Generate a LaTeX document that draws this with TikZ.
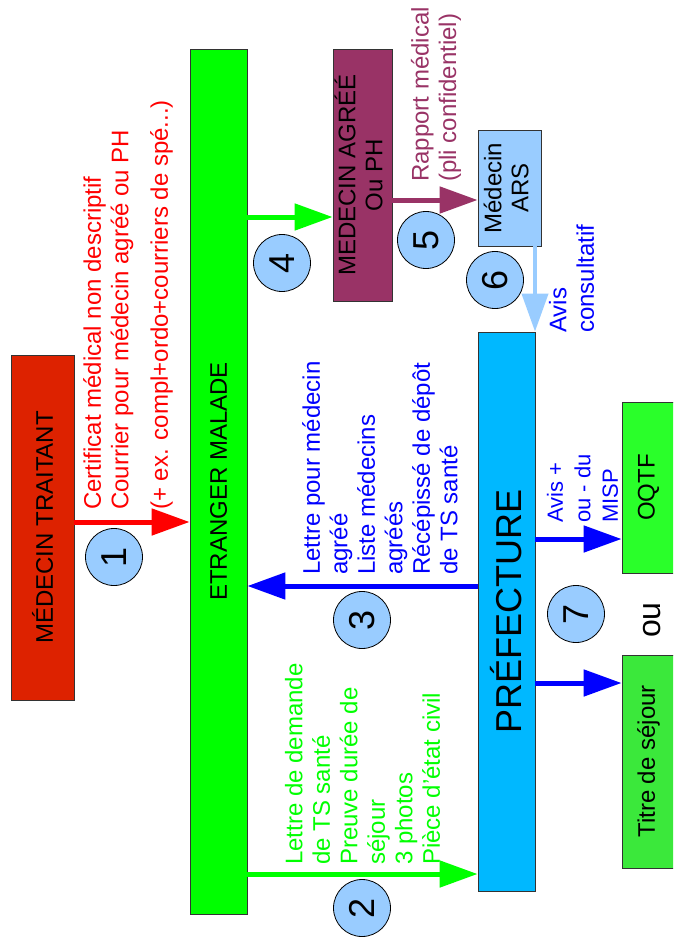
\documentclass[tikz,border=0pt]{standalone}
\usepackage{fontspec}
\setmainfont{Liberation Sans}
\usetikzlibrary{arrows.meta}
\definecolor{traitantred}{HTML}{DD2200}
\definecolor{malgreen}{HTML}{00FF00}
\definecolor{agreepurple}{HTML}{993366}
\definecolor{arsblue}{HTML}{99CCFF}
\definecolor{prefblue}{HTML}{00B8FF}
\definecolor{oqtfgreen}{HTML}{2AFF2A}
\definecolor{titregreen}{HTML}{3BE83B}
\definecolor{docblue}{HTML}{0000FF}

\begin{document}
\begin{tikzpicture}[x=1pt,y=-1pt,
    box/.style={draw=black!80, line width=0.8pt, inner sep=0pt,
      font=\fontsize{24}{27}\selectfont},
    num/.style={circle, draw=black, line width=0.8pt, fill=arsblue,
      minimum size=57pt, inner sep=0pt, font=\fontsize{36}{36}\selectfont},
    lbl/.style={rotate=90, anchor=west, align=left, inner sep=0pt,
      font=\fontsize{24}{27.5}\selectfont},
    arr/.style={line width=5pt, -{Triangle[length=38pt,width=26pt]}}]
    \clip (0,0) rectangle (673,937);

    % boxes
    \node [box, fill=traitantred, minimum width=63pt, minimum height=345pt]
      (traitant) at (42.5,527.5) {\rotatebox{90}{MÉDECIN TRAITANT}};
    \node [box, fill=malgreen, minimum width=57pt, minimum height=865pt]
      (malade) at (218.5,481.5) {\rotatebox{90}{ETRANGER MALADE}};
    \node [box, fill=agreepurple, minimum width=59pt, minimum height=252pt]
      (agree) at (362.5,175) {\rotatebox{90}{\begin{tabular}{@{}c@{}}MEDECIN AGRÉÉ\\Ou PH\end{tabular}}};
    \node [box, fill=arsblue, minimum width=63pt, minimum height=116pt]
      (ars) at (509.5,188) {\rotatebox{90}{\begin{tabular}{@{}c@{}}Médecin\\ARS\end{tabular}}};
    \node [box, fill=prefblue, minimum width=57pt, minimum height=559pt,
      font=\fontsize{36}{40}\selectfont]
      (prefecture) at (506.5,611.5) {\rotatebox{90}{PRÉFECTURE}};
    \node [box, fill=oqtfgreen, minimum width=53pt, minimum height=171pt]
      (oqtf) at (648.5,487.5) {\rotatebox{90}{OQTF}};
    \node [box, fill=titregreen, minimum width=53pt, minimum height=213pt]
      (titre) at (648.5,761.5) {\rotatebox{90}{Titre de séjour}};

    % connectors
    \draw [arr, red] (traitant.east |- 0,522) -- (malade.west |- 0,522);
    \draw [arr, malgreen] (malade.east |- 0,874) -- (prefecture.west |- 0,874);
    \draw [arr, docblue] (prefecture.west |- 0,586) -- (malade.east |- 0,586);
    \draw [arr, malgreen] (malade.east |- 0,217) -- (agree.west |- 0,217);
    \draw [arr, agreepurple] (agree.east |- 0,200) -- (ars.west |- 0,200);
    \draw [arr, arsblue, line width=4pt] (ars.south -| 535,0) -- (prefecture.north -| 535,0);
    \draw [arr, docblue] (prefecture.east |- 0,539) -- (oqtf.west |- 0,539);
    \draw [arr, docblue] (prefecture.east |- 0,683) -- (titre.west |- 0,683);

    % labels
    \node [lbl, text=red] (certif) at (128,510)
      {Certificat médical non descriptif\\Courrier pour médecin agréé ou PH\\[12pt](+ ex. compl+ordo+courriers de spé...)};
    \node [lbl, text=malgreen] (demande) at (362.5,865)
      {Lettre de demande\\de TS santé\\Preuve durée de\\séjour\\3 photos\\Pièce d'état civil};
    \node [lbl, text=docblue] (lettre) at (380,575)
      {Lettre pour médecin\\agréé\\Liste médecins\\agréés\\Récépissé de dépôt\\de TS santé};
    \node [lbl, text=agreepurple] (rapport) at (436,182)
      {Rapport médical\\(pli confidentiel)};
    \node [lbl, text=docblue] (consult) at (571.5,333)
      {Avis\\consultatif};
    \node [lbl, text=docblue, font=\fontsize{22}{27.5}\selectfont] (misp) at (582.5,523)
      {Avis +\\ou - du\\MISP};
    \node [rotate=90, font=\fontsize{32}{32}\selectfont] (ou) at (652,620) {ou};

    % step numbers
    \node [num] (n1) at (114,557) {\rotatebox{90}{1}};
    \node [num] (n2) at (362,908) {\rotatebox{90}{2}};
    \node [num] (n3) at (362,620) {\rotatebox{90}{3}};
    \node [num] (n4) at (282,263) {\rotatebox{90}{4}};
    \node [num] (n5) at (426,240) {\rotatebox{90}{5}};
    \node [num] (n6) at (495,280) {\rotatebox{90}{6}};
    \node [num] (n7) at (576,614) {\rotatebox{90}{7}};
\end{tikzpicture}
\end{document}
